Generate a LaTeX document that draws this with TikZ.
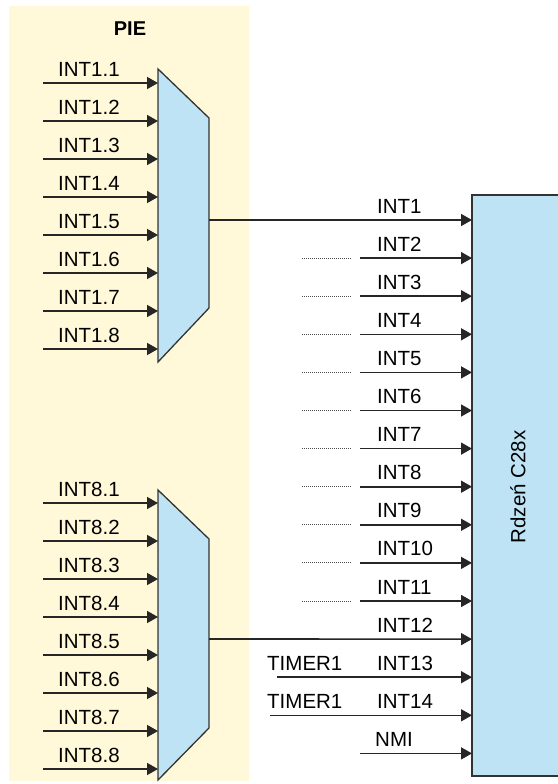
\documentclass[tikz,border=0pt]{standalone}
\usepackage{fontspec}
\setmainfont{Liberation Sans}
\usetikzlibrary{arrows.meta}
\definecolor{beige}{RGB}{255,249,218}
\definecolor{boxblue}{RGB}{190,227,245}
\begin{document}
\begin{tikzpicture}[x=1pt,y=-1pt,
  sig/.style={line width=1.6pt,black!85,-{Triangle[length=11pt,width=12pt]}},
  lbl/.style={anchor=base west,inner sep=0pt,font=\fontsize{20.5}{24}\selectfont},
  dotl/.style={line width=1pt,dash pattern=on 1pt off 1pt,black!70},
  mux/.style={fill=boxblue,draw=black!80,line width=1.3pt}]
\useasboundingbox (0,0) rectangle (557,784);
\fill[beige] (9,6) rectangle (249,781);
\node[font=\bfseries\fontsize{20}{24}\selectfont] (pie) at (130,29) {PIE};
% multiplexers
\draw[mux] (158,69) -- (209,118) -- (209,308) -- (158,362) -- cycle;
\draw[mux] (158,490) -- (209,539) -- (209,728) -- (158,780) -- cycle;
\coordinate (m1out) at (209,220);
\coordinate (m2out) at (209,639);
% inputs
\foreach \k in {1,...,8}{
  \pgfmathsetmacro{\ya}{83+38*(\k-1)}
  \pgfmathsetmacro{\yb}{503+38*(\k-1)}
  \coordinate (a\k) at (43,\ya);
  \coordinate (b\k) at (158,\ya);
  \draw[sig] (a\k) -- (b\k);
  \node[lbl] (la\k) at (58,\ya-7) {INT1.\k};
  \coordinate (c\k) at (43,\yb);
  \coordinate (d\k) at (158,\yb);
  \draw[sig] (c\k) -- (d\k);
  \node[lbl] (lc\k) at (58,\yb-7) {INT8.\k};
}
% core
\fill[boxblue] (472,195) rectangle (560,776);
\draw[line width=1.3pt,black!80] (560,195) -- (472,195) -- (472,776) -- (560,776);
\node[rotate=90,inner sep=0pt,font=\fontsize{20.5}{24}\selectfont] (core) at (518,487) {Rdzeń C28x};
% core inputs
\foreach \k in {1,...,15}{
  \pgfmathsetmacro{\yy}{220+38.1*(\k-1)}
  \coordinate (e\k) at (472,\yy);
}
\draw[sig] (m1out) -- (e1);
\node[lbl] (l1) at (377,{220-7}) {INT1};
\foreach \k in {2,...,11}{
  \pgfmathsetmacro{\yy}{220+38.1*(\k-1)}
  \coordinate (s\k) at (360,\yy);
  \coordinate (p\k) at (302,\yy);
  \coordinate (q\k) at (352,\yy);
  \draw[dotl] (p\k) -- (q\k);
  \draw[sig] (s\k) -- (e\k);
  \node[lbl] (l\k) at (377,\yy-7) {INT\k};
}
\draw[sig] (m2out) -- (e12);
\node[lbl] (l12) at (377,{220+38.1*11-7}) {INT12};
\coordinate (s13) at (277,{220+38.1*12});
\draw[sig] (s13) -- (e13);
\node[lbl] (l13) at (377,{220+38.1*12-7}) {INT13};
\node[lbl] (t13) at (267,{220+38.1*12-7}) {TIMER1};
\coordinate (s14) at (270,{220+38.1*13});
\draw[sig] (s14) -- (e14);
\node[lbl] (l14) at (377,{220+38.1*13-7}) {INT14};
\node[lbl] (t14) at (267,{220+38.1*13-7}) {TIMER1};
\coordinate (s15) at (360,{220+38.1*14});
\draw[sig] (s15) -- (e15);
\node[lbl] (l15) at (375,{220+38.1*14-7}) {NMI};
\end{tikzpicture}
\end{document}
